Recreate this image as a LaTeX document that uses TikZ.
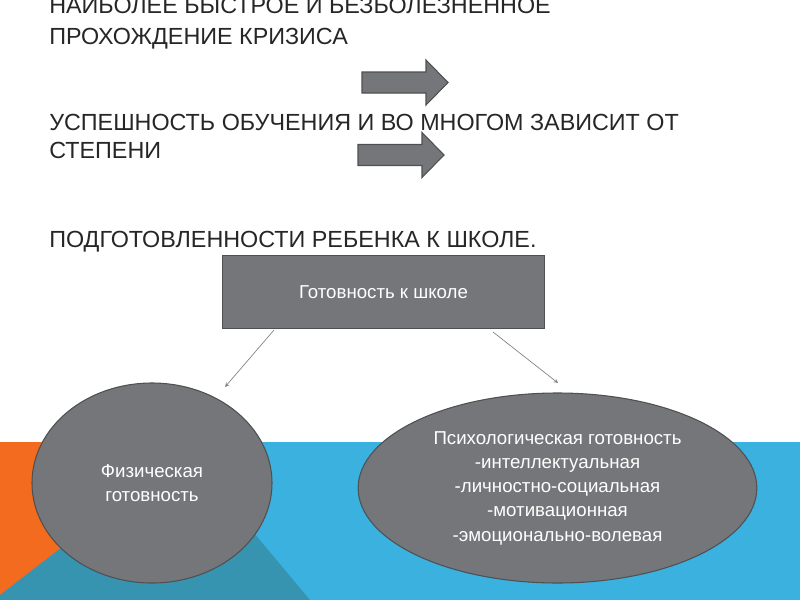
\documentclass[tikz,border=0pt]{standalone}
\usepackage{fontspec}
\setmainfont{Liberation Sans}
\usepackage{tikz}
\usetikzlibrary{shapes.geometric}

\definecolor{slidegray}{HTML}{75767A}
\definecolor{edgegray}{HTML}{4F5052}
\definecolor{skyblue}{HTML}{3AB1DF}
\definecolor{deepteal}{HTML}{3794B1}
\definecolor{accentorange}{HTML}{F26B1F}

\tikzset{
    headline/.style={anchor=base west, inner sep=0pt, text=black!85, font=\fontsize{17.5}{21}\selectfont},
    graybox/.style={draw=edgegray, fill=slidegray, text=white, line width=0.8pt, inner sep=1pt, align=center, font=\fontsize{14}{18.2}\selectfont},
    thinarrow/.style={draw=black!50, line width=0.5pt, -stealth},
    blockarrow/.style={draw=edgegray, fill=slidegray, line width=0.8pt}
}

\begin{document}
\begin{tikzpicture}[x=0.75pt, y=-0.75pt]
    \useasboundingbox (0,0) rectangle (800,600);

    % Coloured band at the bottom
    \fill[skyblue] (0,442) rectangle (800,600);
    \fill[accentorange] (0,442) rectangle (100,600);
    \fill[deepteal] (0,595) -- (97,520) -- (243,520) -- (310,600) -- (0,600) -- cycle;

    % Heading lines
    \node[headline] (h1) at (49,13) {НАИБОЛЕЕ БЫСТРОЕ И БЕЗБОЛЕЗНЕННОЕ};
    \node[headline] (h2) at (49,44) {ПРОХОЖДЕНИЕ КРИЗИСА};
    \node[headline] (h3) at (49,130) {УСПЕШНОСТЬ ОБУЧЕНИЯ И ВО МНОГОМ ЗАВИСИТ ОТ};
    \node[headline] (h4) at (49,158) {СТЕПЕНИ};
    \node[headline] (h5) at (49,247) {ПОДГОТОВЛЕННОСТИ РЕБЕНКА К ШКОЛЕ.};

    % Block arrows
    \foreach \ax/\ay in {362/82.5, 358/155}
        \draw[blockarrow] (\ax,\ay-10.5) -- (\ax+64,\ay-10.5) -- (\ax+64,\ay-22.5)
            -- (\ax+86,\ay) -- (\ax+64,\ay+22.5) -- (\ax+64,\ay+10.5) -- (\ax,\ay+10.5) -- cycle;

    % Top box
    \node[graybox, minimum width=242pt, minimum height=55pt] (school) at (383.5,292) {Готовность к школе};

    % Ellipses
    \node[graybox, ellipse, minimum width=180pt, minimum height=150pt] (phys) at (152,483)
        {Физическая\\готовность};
    \node[graybox, ellipse, minimum width=299pt, minimum height=142.5pt] (psych) at (557.5,488)
        {Психологическая готовность\\-интеллектуальная\\-личностно-социальная\\-мотивационная\\-эмоционально-волевая};

    % Connectors
    \coordinate (schoolL) at (274,330);
    \coordinate (schoolR) at (493,332);
    \coordinate (physTip) at (225,387);
    \coordinate (psychTip) at (558,383);
    \draw[thinarrow] (schoolL) -- (physTip);
    \draw[thinarrow] (schoolR) -- (psychTip);
\end{tikzpicture}
\end{document}
